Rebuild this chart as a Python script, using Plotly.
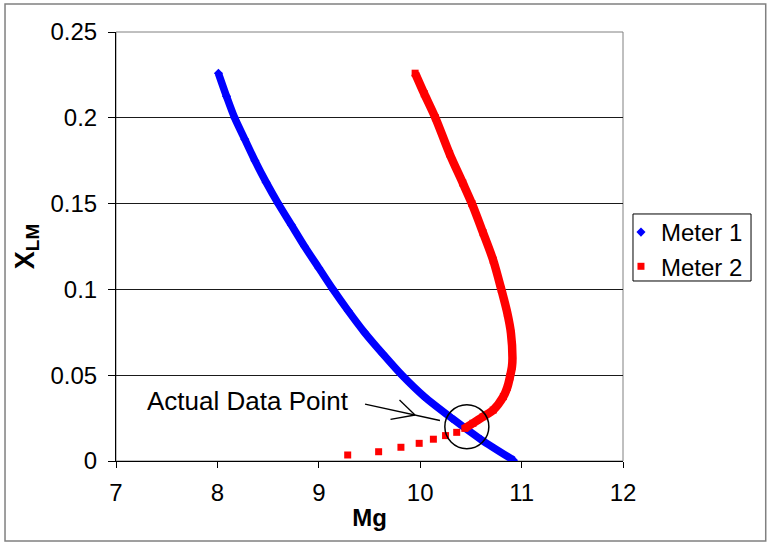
import plotly.graph_objects as go

# Meter 1 curve (Mg vs X_LM)
blue_x = [8.01, 8.09, 8.17, 8.27, 8.37, 8.48, 8.60, 8.73, 8.86, 9.00, 9.14, 9.29,
          9.45, 9.63, 9.82, 10.04, 10.31, 10.60, 10.92]
blue_y = [0.226, 0.2125, 0.200, 0.1875, 0.175, 0.1625, 0.150, 0.1375, 0.125, 0.1125, 0.100, 0.0875,
          0.075, 0.0625, 0.050, 0.0375, 0.025, 0.0125, 0.0005]

# Meter 2 curve: densely sampled upper part, then the sparse tail
red_x = [9.95, 10.04, 10.15, 10.29, 10.42, 10.51, 10.62, 10.72, 10.80, 10.86, 10.895,
         10.91, 10.905, 10.885, 10.86, 10.82, 10.72, 10.62, 10.52, 10.44]
red_y = [0.226, 0.214, 0.200, 0.179, 0.162, 0.150, 0.133, 0.117, 0.100, 0.086, 0.0745,
         0.060, 0.055, 0.049, 0.043, 0.0375, 0.0297, 0.0258, 0.022, 0.019]
red_tail_x = [10.36, 10.25, 10.13, 9.99, 9.81, 9.59, 9.285]
red_tail_y = [0.0167, 0.0148, 0.0127, 0.0103, 0.0080, 0.0054, 0.0035]

x_ticks = [7, 8, 9, 10, 11, 12]
y_ticks = [0, 0.05, 0.1, 0.15, 0.2, 0.25]
y_tick_text = ["0", "0.05", "0.1", "0.15", "0.2", "0.25"]

BLUE = "#0000ff"
RED = "#ff0000"
FONT = "Arial, Liberation Sans, sans-serif"

fig = go.Figure()

# continuous bands formed by the densely packed markers
fig.add_trace(go.Scatter(x=blue_x, y=blue_y, mode="lines", showlegend=False,
                         line=dict(color=BLUE, width=7.5, shape="spline", smoothing=0.8),
                         hoverinfo="skip"))
fig.add_trace(go.Scatter(x=red_x, y=red_y, mode="lines", showlegend=False,
                         line=dict(color=RED, width=8.5, shape="spline", smoothing=0.8),
                         hoverinfo="skip"))

# marker series (these carry the legend entries)
fig.add_trace(go.Scatter(x=blue_x, y=blue_y, mode="markers", name="Meter 1",
                         marker=dict(symbol="diamond", size=7, color=BLUE, line=dict(width=0))))
fig.add_trace(go.Scatter(x=red_x + red_tail_x, y=red_y + red_tail_y, mode="markers",
                         name="Meter 2",
                         marker=dict(symbol="square", size=7, color=RED, line=dict(width=0))))

shapes = [
    # plot area border (top/right in grey)
    dict(type="rect", xref="paper", yref="paper", x0=0, x1=1, y0=0, y1=1,
         line=dict(color="#808080", width=1), layer="below"),
    # outer chart frame
    dict(type="rect", xref="paper", yref="paper", x0=-0.2189, x1=1.2815, y0=-0.1865, y1=1.0653,
         line=dict(color="#808080", width=1.5), layer="below"),
    # legend frame
    dict(type="rect", xref="paper", yref="paper", x0=1.0197, x1=1.2525, y0=0.4196, y1=0.5758,
         line=dict(color="black", width=1), fillcolor="white", layer="below"),
    # circle around the actual data point
    dict(type="circle", xref="x", yref="y", x0=10.243, x1=10.677, y0=0.0072, y1=0.0328,
         line=dict(color="black", width=1.5), layer="above"),
    # arrow shaft
    dict(type="line", xref="x", yref="y", x0=9.456, y0=0.0332, x1=10.195, y1=0.0236,
         line=dict(color="black", width=1.3), layer="above"),
    # arrow head arms
    dict(type="line", xref="x", yref="y", x0=9.796, y0=0.0356, x1=9.949, y1=0.0268,
         line=dict(color="black", width=1.3), layer="above"),
    dict(type="line", xref="x", yref="y", x0=9.707, y0=0.0242, x1=9.949, y1=0.0268,
         line=dict(color="black", width=1.3), layer="above"),
]

fig.update_layout(
    width=767, height=545,
    margin=dict(l=116, r=144, t=32, b=84),
    paper_bgcolor="white", plot_bgcolor="white",
    font=dict(family=FONT, size=24, color="black"),
    shapes=shapes,
    annotations=[dict(x=8.30, y=0.035, xref="x", yref="y", text="Actual Data Point",
                      showarrow=False, font=dict(size=26, family=FONT, color="black"),
                      xanchor="center", yanchor="middle")],
    legend=dict(x=0.996, y=0.5851, xanchor="left", yanchor="top",
                bgcolor="rgba(0,0,0,0)", borderwidth=0,
                font=dict(size=24, family=FONT, color="black"),
                itemwidth=30, tracegroupgap=0),
    xaxis=dict(range=[7, 12], tickvals=x_ticks, ticks="outside", ticklen=6, tickcolor="black",
               showline=True, linecolor="black", linewidth=1, showgrid=False, zeroline=False,
               tickfont=dict(size=24), fixedrange=True, ticklabelstandoff=4,
               title=dict(text="<b>Mg</b>", font=dict(size=24), standoff=4)),
    yaxis=dict(range=[0, 0.25], tickvals=y_ticks, ticktext=y_tick_text, ticks="outside",
               ticklen=7, tickcolor="black", showline=True, linecolor="black", linewidth=1,
               showgrid=True, gridcolor="#1a1a1a", gridwidth=1, zeroline=False,
               tickfont=dict(size=24), fixedrange=True, ticklabelstandoff=6,
               title=dict(text="<b>X<sub>LM</sub></b>", font=dict(size=27), standoff=8)),
)

fig.write_html("out.html")
